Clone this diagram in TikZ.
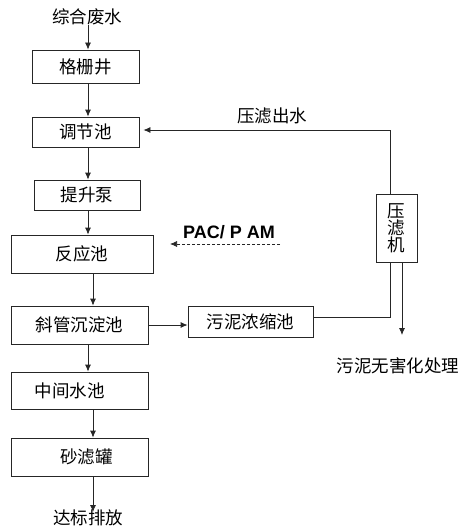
\documentclass[tikz,border=0pt]{standalone}
\usepackage{fontspec}
\setmainfont{Noto Sans CJK SC}
\newfontfamily\arialfont{Liberation Sans}
\usetikzlibrary{arrows.meta,shadows}
\begin{document}
\begin{tikzpicture}[x=1pt,y=-1pt,
  box/.style={draw=black!85,line width=0.8pt,fill=white,inner sep=0pt,
    font=\fontsize{17.5}{19}\selectfont,
    drop shadow={shadow xshift=1.3pt,shadow yshift=-1.3pt,fill=blue!35!black,opacity=0.55}},
  lbl/.style={inner sep=0pt,font=\fontsize{17.5}{19}\selectfont},
  flow/.style={draw=black!85,line width=0.8pt,-{Latex[length=7pt,width=6pt]}},
  plain/.style={draw=black!85,line width=0.8pt}]
\useasboundingbox (0,0) rectangle (462,527);
% boxes
\node[box,minimum width=107pt,minimum height=33pt] (b1) at (85.5,66.5) {格栅井};
\node[box,minimum width=107pt,minimum height=30pt] (b2) at (85.5,132) {调节池};
\node[box,minimum width=106pt,minimum height=30pt] (b3) at (87,195) {提升泵};
\node[box,minimum width=142pt,minimum height=38pt] (b4) at (82,254) {反应池};
\node[box,minimum width=137pt,minimum height=38pt] (b5) at (79.5,325) {斜管沉淀池};
\node[box,minimum width=137pt,minimum height=37pt] (b6) at (79.5,390.5) {\hspace*{-20pt}中间水池};
\node[box,minimum width=137pt,minimum height=38pt] (b7) at (79.5,457) {\hspace*{14pt}砂滤罐};
\node[box,minimum width=125pt,minimum height=31pt] (b8) at (250.5,321.5) {污泥浓缩池};
\node[box,minimum width=41pt,minimum height=68pt,align=center] (b9) at (396.5,228) {压\\[-2pt]滤\\[-2pt]机};
% labels
\node[lbl] (src) at (87,17) {综合废水};
\node[lbl] (out) at (88,518) {达标排放};
\node[lbl] (fw) at (272,116) {压滤出水};
\node[lbl] (sl) at (398,366) {污泥无害化处理};
\node[inner sep=0pt,font=\arialfont\bfseries\fontsize{18}{20}\selectfont] (pac) at (229,232) {PAC/ P AM};
% helper coordinates
\coordinate (x93) at (93,0);
\coordinate (x88) at (88,0);
\coordinate (x390) at (390,0);
\coordinate (x402) at (402,0);
\coordinate (pacs) at (280,244);
\coordinate (pace) at (170,244);
\coordinate (fb) at (390,130);
\coordinate (ye) at (0,317);
\coordinate (slend) at (402,335);
\coordinate (outtop) at (93,512);
% main flow
\draw[flow] (src.south -| x88) -- (b1.north -| x88);
\draw[flow] (b1.south -| x88) -- (b2.north -| x88);
\draw[flow] (b2.south -| x88) -- (b3.north -| x88);
\draw[flow] (b3.south -| x88) -- (b4.north -| x88);
\draw[flow] (b4.south -| x93) -- (b5.north -| x93);
\draw[flow] (b5.south -| x88) -- (b6.north -| x88);
\draw[flow] (b6.south -| x93) -- (b7.north -| x93);
\draw[flow] (b7.south -| x93) -- (outtop);
% sludge
\draw[flow] (b5.east) -- (b5.east -| b8.west);
\draw[plain] (b8.east |- ye) -| (b9.south -| x390);
\draw[plain] (b9.north -| x390) -- (fb);
\draw[flow,shorten >=4pt] (fb) -- (fb -| b2.east);
\draw[flow] (b9.south -| x402) -- (slend);
% PAC
\draw[flow,dashed,dash pattern=on 3pt off 2pt,line width=0.7pt] (pacs) -- (pace);
\end{tikzpicture}
\end{document}
